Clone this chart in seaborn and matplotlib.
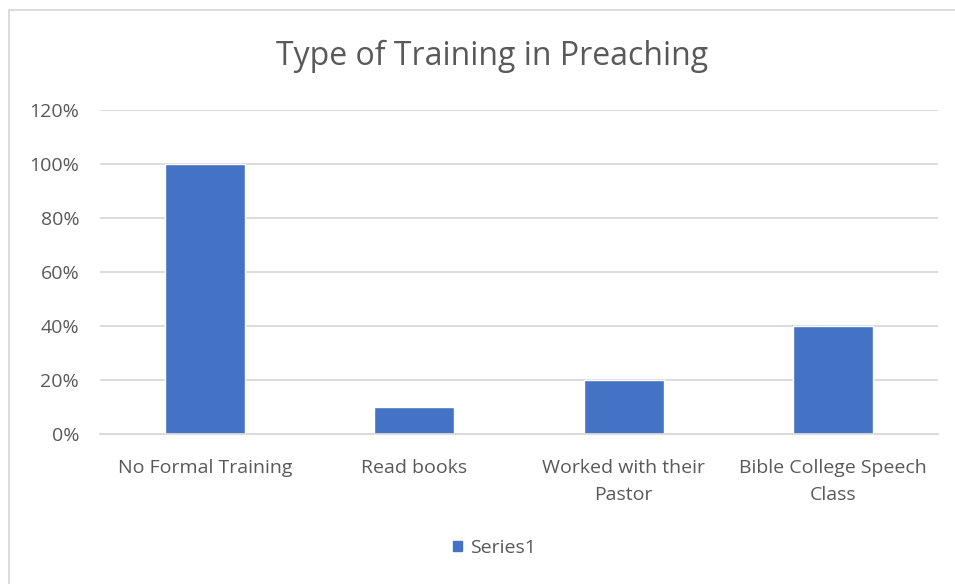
import matplotlib.pyplot as plt
from matplotlib import ticker
from matplotlib.patches import Patch, Rectangle
import pandas as pd
import seaborn as sns

categories = ['No Formal Training', 'Read books', 'Worked with their\nPastor',
              'Bible College Speech\nClass']
values = [1.00, 0.10, 0.20, 0.40]
series_name = 'Series1'
y_ticks = [0, 0.2, 0.4, 0.6, 0.8, 1.0, 1.2]

BAR = '#4472C4'
GRID = '#d9d9d9'
TEXT = '#595959'

if __name__ == '__main__':
    sns.set_style('white')
    plt.rcParams['font.family'] = ['Open Sans', 'DejaVu Sans']

    df = pd.DataFrame({'cat': categories, 'val': values})

    fig = plt.figure(figsize=(9.55, 5.84), dpi=100)
    ax = fig.add_axes([0.1047, 0.2568, 0.8775, 0.5548])

    sns.barplot(data=df, x='cat', y='val', color=BAR, width=0.38, saturation=1, ax=ax)

    ax.set_ylim(0, 1.2)
    ax.set_xlim(-0.5, len(categories) - 0.5)
    ax.set_yticks(y_ticks)
    ax.yaxis.set_major_formatter(ticker.FuncFormatter(lambda v, _p: f'{v * 100:.0f}%'))
    ax.yaxis.grid(True, color=GRID, linewidth=1.3)
    ax.set_axisbelow(True)

    for side in ['top', 'right', 'left']:
        ax.spines[side].set_visible(False)
    ax.spines['bottom'].set_color(GRID)
    ax.spines['bottom'].set_linewidth(1.3)

    # category tick marks sit between bars, as in Excel
    ax.set_xticks([i - 0.5 for i in range(len(categories) + 1)], minor=True)
    ax.tick_params(axis='x', which='minor', length=7, width=1.3, color=GRID)
    ax.tick_params(axis='x', which='major', length=0, pad=18, labelsize=14, labelcolor=TEXT)
    ax.tick_params(axis='y', length=0, pad=15, labelsize=14, labelcolor=TEXT)
    for lbl in ax.get_xticklabels():
        lbl.set_linespacing(1.65)

    ax.set_xlabel('')
    ax.set_ylabel('')
    fig.text(0.515, 0.903, 'Type of Training in Preaching', ha='center', va='center',
             fontsize=23, color=TEXT)

    fig.legend(handles=[Patch(color=BAR, label=series_name)], loc='center',
               bbox_to_anchor=(0.518, 0.062), frameon=False, fontsize=14,
               labelcolor=TEXT, handlelength=0.45, handleheight=0.45, handletextpad=0.4)

    fig.patches.append(Rectangle((0.009, -0.01), 1.1, 0.993, transform=fig.transFigure,
                                 fill=False, edgecolor=GRID, linewidth=1.3))

    plt.savefig('out.png', dpi=100)
